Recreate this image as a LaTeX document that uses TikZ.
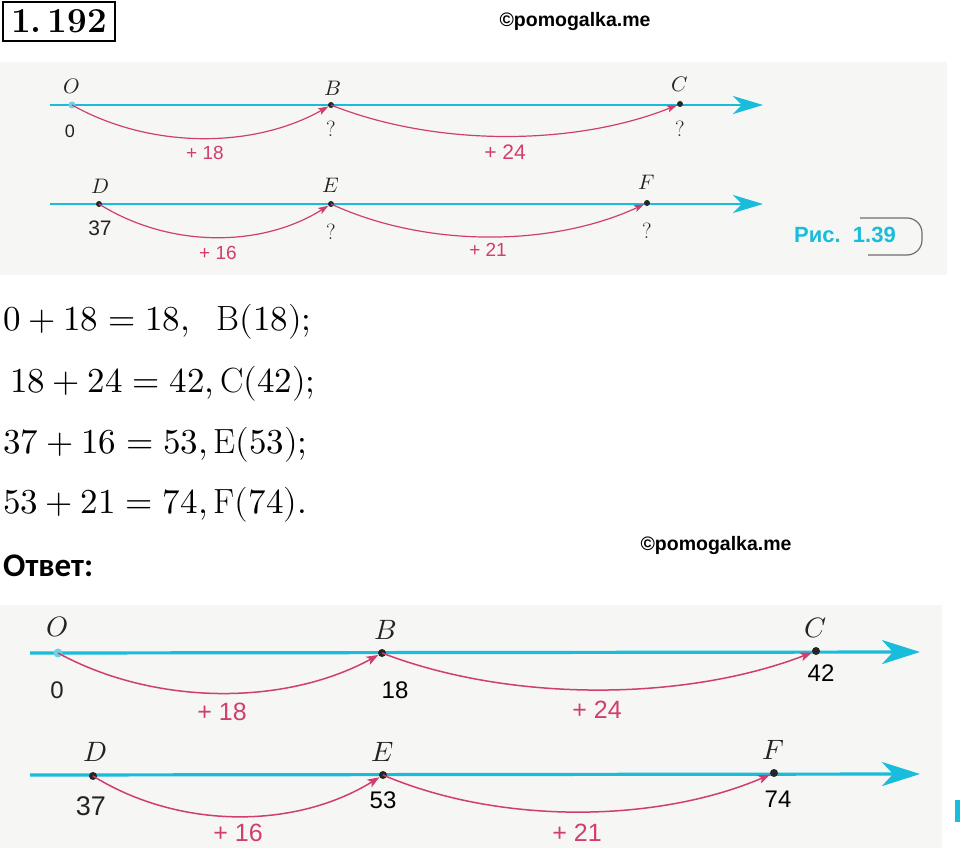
\documentclass[tikz,border=0pt]{standalone}
\usepackage{fontspec}
\usepackage{unicode-math}
\setmathfont{Latin Modern Math}
\newfontfamily\helv{Liberation Sans}
\newfontfamily\carl{Carlito}
\usetikzlibrary{arrows.meta,calc}
\definecolor{axiscol}{RGB}{25,188,218}
\definecolor{arccol}{RGB}{208,62,112}
\definecolor{bgcol}{RGB}{246,246,244}
\definecolor{inkgray}{RGB}{35,35,35}
\definecolor{framegray}{RGB}{110,110,110}
\tikzset{
  fs/.style={font=\fontsize{#1}{#1}\selectfont},
  hfs/.style={font=\helv\fontsize{#1}{#1}\selectfont},
  axisA/.style={draw=axiscol, line width=2.6pt, -{Stealth[length=30pt,width=18pt,inset=9pt]}},
  axisB/.style={draw=axiscol, line width=3.2pt, -{Stealth[length=38pt,width=24pt,inset=11pt]}},
  dotA/.style={circle, fill=black!85, inner sep=0pt, minimum size=6pt},
  dotB/.style={circle, fill=black!85, inner sep=0pt, minimum size=8pt},
  origA/.style={circle, fill=axiscol!65!white, inner sep=0pt, minimum size=7pt},
  origB/.style={circle, fill=axiscol!65!white, inner sep=0pt, minimum size=9pt},
  arcA/.style={draw=arccol, line width=1.2pt, -{Stealth[length=10pt,width=7pt,inset=2pt]}},
  arcB/.style={draw=arccol, line width=1.5pt, -{Stealth[length=12pt,width=9pt,inset=3pt]}},
  letA/.style={fs=21, text=inkgray},
  letB/.style={fs=28, text=inkgray},
  qmark/.style={fs=22, text=inkgray},
  pinkA/.style={hfs=19, text=arccol},
  pinkB/.style={hfs=25, text=arccol},
  eq/.style={fs=35, anchor=base west, inner sep=0pt},
  wmark/.style={font=\helv\bfseries\fontsize{19.5}{19.5}\selectfont, inner sep=0pt},
}
\begin{document}
\begin{tikzpicture}[x=1pt,y=-1pt]
\useasboundingbox (0,0) rectangle (960,848);
% header
\node[draw, line width=2pt, minimum width=112pt, minimum height=39pt, inner sep=0pt, fs=35] (num) at (59,21.5) {\bfseries 1.\,192};
\node[wmark] (wm1) at (575,22) {©pomogalka.me};
% ---------- top figure (book) ----------
\fill[bgcol] (0,62) rectangle (947,275);
\coordinate (a1s) at (50,105);
\coordinate (a1e) at (763,105);
\draw[axisA] (a1s) -- (a1e);
\coordinate (a2s) at (50,204);
\coordinate (a2e) at (763,204);
\draw[axisA] (a2s) -- (a2e);
\node[origA] (O1) at (72,105) {};
\node[dotA] (B1) at (331,105) {};
\node[dotA] (C1) at (680,104) {};
\node[dotA] (D1) at (99,204) {};
\node[dotA] (E1) at (331,204) {};
\node[dotA] (F1) at (647,203) {};
\node[letA] (lO1) at (72,86) {$O$};
\node[letA] (lB1) at (333,88) {$B$};
\node[letA] (lC1) at (680,84) {$C$};
\node[letA] (lD1) at (100,186) {$D$};
\node[letA] (lE1) at (331,185) {$E$};
\node[letA] (lF1) at (647,182) {$F$};
\node[hfs=18, text=inkgray] (v01) at (70,131) {0};
\node[qmark] (qB1) at (331,129) {?};
\node[qmark] (qC1) at (680,129) {?};
\node[hfs=21, text=inkgray] (v371) at (100,228) {37};
\node[qmark] (qE1) at (331,232) {?};
\node[qmark] (qF1) at (647,231) {?};
\draw[arcA] (O1.center) .. controls +(78,44) and +(-78,44) .. (B1);
\draw[arcA] (B1.center) .. controls +(105,42) and +(-105,42) .. (C1);
\draw[arcA] (D1.center) .. controls +(70,44) and +(-70,44) .. (E1);
\draw[arcA] (E1.center) .. controls +(95,44) and +(-95,44) .. (F1);
\node[pinkA] (p181) at (205,153) {+\ 18};
\node[pinkA, hfs=21] (p241) at (505,152) {+\ 24};
\node[pinkA] (p161) at (218,253) {+\ 16};
\node[pinkA] (p211) at (488,250) {+\ 21};
\node[font=\helv\bfseries\fontsize{22}{22}\selectfont, text=axiscol, inner sep=0pt] (fig) at (845,235) {Рис.\ \ 1.39};
\draw[framegray, line width=1.2pt, rounded corners=15pt] (860,218) -- (922,218) -- (922,255) -- (868,255);
% ---------- solution ----------
\node[eq] (eq1) at (3,330) {$0+18=18,\ \ \mathrm{B}(18);$};
\node[eq] (eq2) at (10,392) {$18+24=42,\mathrm{C}(42);$};
\node[eq] (eq3) at (3,453) {$37+16=53,\mathrm{E}(53);$};
\node[eq] (eq4) at (3,513) {$53+21=74,\mathrm{F}(74).$};
\node[font=\carl\bfseries\fontsize{33}{33}\selectfont, anchor=base west, inner sep=0pt] (ans) at (3,576) {Ответ:};
\node[wmark] (wm2) at (716,545) {©pomogalka.me};
% ---------- bottom figure ----------
\fill[bgcol] (0,605) rectangle (942,848);
\coordinate (b1s) at (30,653);
\coordinate (b1e) at (920,652);
\draw[axisB] (b1s) -- (b1e);
\coordinate (b2s) at (30,775);
\coordinate (b2e) at (920,774);
\draw[axisB] (b2s) -- (b2e);
\node[origB] (O2) at (58,653) {};
\node[dotB] (B2) at (382,653) {};
\node[dotB] (C2) at (816,651) {};
\node[dotB] (D2) at (93,776) {};
\node[dotB] (E2) at (383,775) {};
\node[dotB] (F2) at (774,773) {};
\node[letB] (lO2) at (57,627) {$O$};
\node[letB] (lB2) at (385,630) {$B$};
\node[letB] (lC2) at (816,628) {$C$};
\node[letB] (lD2) at (95,752) {$D$};
\node[letB] (lE2) at (383,752) {$E$};
\node[letB] (lF2) at (773,750) {$F$};
\node[hfs=24, text=inkgray] (v02) at (57,690) {0};
\node[hfs=24] (v182) at (395,690) {18};
\node[hfs=24] (v422) at (821,673) {42};
\node[hfs=27, text=inkgray] (v372) at (91,806) {37};
\node[hfs=24] (v532) at (383,800) {53};
\node[hfs=24] (v742) at (778,799) {74};
\draw[arcB] (O2.center) .. controls +(97,53) and +(-97,53) .. (B2);
\draw[arcB] (B2.center) .. controls +(130,50) and +(-130,50) .. (C2);
\draw[arcB] (D2.center) .. controls +(87,54) and +(-87,54) .. (E2);
\draw[arcB] (E2.center) .. controls +(117,50) and +(-117,50) .. (F2);
\node[pinkB] (p182) at (222,712) {+\ 18};
\node[pinkB] (p242) at (597,710) {+\ 24};
\node[pinkB] (p162) at (238,833) {+\ 16};
\node[pinkB] (p212) at (577,833) {+\ 21};
\fill[axiscol] (955,800) rectangle (960,822);
\end{tikzpicture}
\end{document}
